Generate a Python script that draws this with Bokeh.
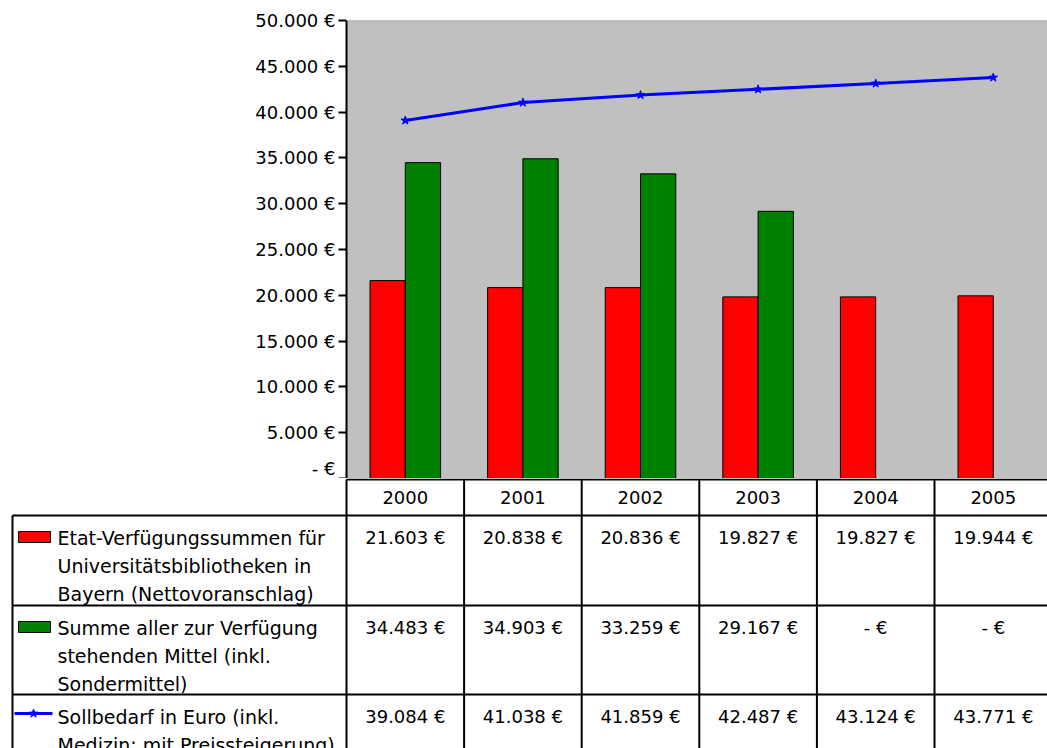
from bokeh.plotting import figure
from bokeh.models import Range1d, FixedTicker, Span
from bokeh.core.properties import value
from bokeh.embed import file_html
from bokeh.resources import INLINE

# ---------------- data ----------------
years = ["2000", "2001", "2002", "2003", "2004", "2005"]
etat = [21603, 20838, 20836, 19827, 19827, 19944]
summe = [34483, 34903, 33259, 29167, 0, 0]
soll = [39084, 41038, 41859, 42487, 43124, 43771]

y_ticks = [0, 5000, 10000, 15000, 20000, 25000, 30000, 35000, 40000, 45000, 50000]
y_tick_labels = ["- €", "5.000 €", "10.000 €", "15.000 €", "20.000 €", "25.000 €",
                 "30.000 €", "35.000 €", "40.000 €", "45.000 €", "50.000 €"]

series_labels = [
    ["Etat-Verfügungssummen für", "Universitätsbibliotheken in", "Bayern (Nettovoranschlag)"],
    ["Summe aller zur Verfügung", "stehenden Mittel (inkl.", "Sondermittel)"],
    ["Sollbedarf in Euro (inkl.", "Medizin; mit Preissteigerung)"],
]
series_values = [etat, summe, soll]
RED, GREEN, BLUE = "#FF0000", "#008000", "#0000FF"

# ---------------- layout constants ----------------
W = 1047
COL_PX = 117.6          # width of one year column in px
LEFT_PX = 346           # frame left of the chart inside the figure
FRAME_W = W - LEFT_PX
X_END = FRAME_W / COL_PX
FONT = value("DejaVu Sans")


def euro(v):
    return "- €" if v == 0 else f"{v:,}".replace(",", ".") + " €"


def px(xpage):
    # page x -> data units of the column axis
    return (xpage - LEFT_PX) / COL_PX


n = len(years)
idx = list(range(n))

# ---------------- chart ----------------
p1 = figure(width=W, height=478, x_range=Range1d(0, X_END), y_range=Range1d(0, 50000),
            x_axis_type=None, output_backend="svg", toolbar_location=None,
            min_border_left=LEFT_PX, min_border_right=0, min_border_top=20, min_border_bottom=0)
p1.background_fill_color = "#C0C0C0"
p1.border_fill_color = "white"
p1.outline_line_color = None
p1.grid.visible = False

ya = p1.yaxis[0]
ya.ticker = FixedTicker(ticks=y_ticks)
ya.major_label_overrides = {t: l for t, l in zip(y_ticks, y_tick_labels)}
ya.axis_line_color = "black"
ya.axis_line_width = 2
ya.major_tick_line_color = "black"
ya.major_tick_line_width = 2
ya.major_tick_out = 8
ya.major_tick_in = 0
ya.minor_tick_out = 0
ya.minor_tick_in = 0
ya.major_label_standoff = 3
ya.major_label_text_font = "DejaVu Sans"
ya.major_label_text_font_size = "18px"
ya.major_label_text_color = "black"

p1.add_layout(Span(location=50000, dimension="width", line_color="#a8a8a8", line_width=2))

p1.vbar(x=[i + 0.35 for i in idx], top=etat, width=0.3,
        fill_color=RED, line_color="black", line_width=1)
g_idx = [i for i in idx if summe[i] > 0]
p1.vbar(x=[i + 0.65 for i in g_idx], top=[summe[i] for i in g_idx], width=0.3,
        fill_color=GREEN, line_color="black", line_width=1)
p1.line(x=[i + 0.5 for i in idx], y=soll, line_color=BLUE, line_width=3)
p1.scatter(x=[i + 0.5 for i in idx], y=soll, marker="star", size=9,
           fill_color=BLUE, line_color=BLUE)

# ---------------- data table ----------------
H2 = 270
p2 = figure(width=W, height=H2, x_range=Range1d(-LEFT_PX / COL_PX, X_END), y_range=Range1d(H2, 0),
            x_axis_type=None, y_axis_type=None, output_backend="svg", toolbar_location=None,
            min_border=0)
p2.outline_line_color = None
p2.grid.visible = False
p2.background_fill_color = "white"
p2.border_fill_color = "white"

header_top, header_bottom = 1, 37
row_tops = [37, 127, 216]
text_off, line_h = 22, 28
x_left = px(12)

# grid lines
p2.segment(x0=[0], y0=[header_top], x1=[X_END], y1=[header_top], line_color="black", line_width=2)
p2.segment(x0=[x_left] * len(row_tops), y0=row_tops, x1=[X_END] * len(row_tops), y1=row_tops,
           line_color="black", line_width=2)
p2.segment(x0=list(range(n + 1)), y0=[header_top] * (n + 1), x1=list(range(n + 1)), y1=[H2] * (n + 1),
           line_color="black", line_width=2)
p2.segment(x0=[x_left], y0=[header_bottom], x1=[x_left], y1=[H2], line_color="black", line_width=2)

# year header
p2.text(x=[i + 0.5 for i in idx], y=[19] * n, text=years, text_align="center",
        text_baseline="middle", text_font=FONT, text_font_size="18px", text_color="black")

# values
for r, vals in enumerate(series_values):
    p2.text(x=[i + 0.5 for i in idx], y=[row_tops[r] + text_off] * n, text=[euro(v) for v in vals],
            text_align="center", text_baseline="middle", text_font=FONT,
            text_font_size="18px", text_color="black")

# legend labels
for r, lines in enumerate(series_labels):
    p2.text(x=[px(57)] * len(lines), y=[row_tops[r] + text_off + k * line_h for k in range(len(lines))],
            text=lines, text_align="left", text_baseline="middle", text_font=FONT,
            text_font_size="19px", text_color="black")

# legend keys
p2.quad(left=[px(18)], right=[px(50)], top=[row_tops[0] + text_off - 6], bottom=[row_tops[0] + text_off + 5],
        fill_color=RED, line_color="black", line_width=1)
p2.quad(left=[px(18)], right=[px(50)], top=[row_tops[1] + text_off - 6], bottom=[row_tops[1] + text_off + 5],
        fill_color=GREEN, line_color="black", line_width=1)
p2.line(x=[px(14), px(52)], y=[row_tops[2] + text_off - 3] * 2, line_color=BLUE, line_width=3)
p2.scatter(x=[px(33)], y=[row_tops[2] + text_off - 3], marker="star", size=9,
           fill_color=BLUE, line_color=BLUE)

open("out.html", "w").write(file_html([p1, p2], INLINE))
